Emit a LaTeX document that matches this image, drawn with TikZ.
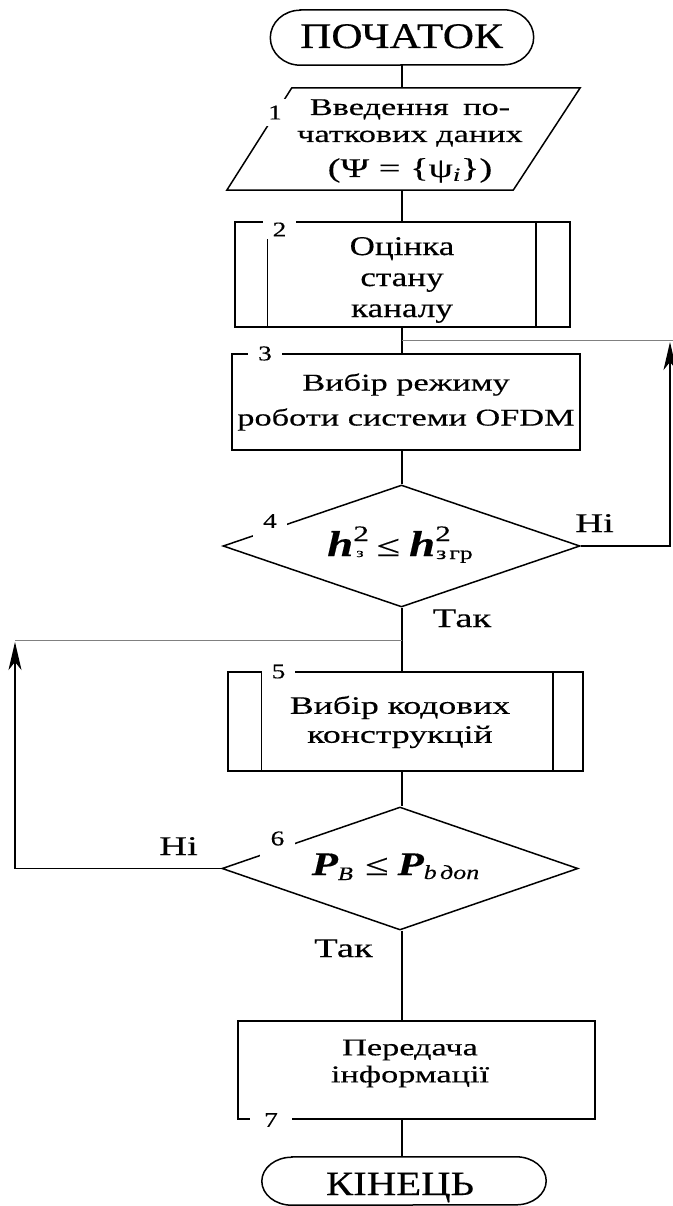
\documentclass[tikz,border=0pt]{standalone}
\usepackage{fontspec}
\setmainfont{Liberation Serif}
\newfontfamily\fw[FakeStretch=1.43,FakeBold=0.35]{Liberation Serif}
\newfontfamily\fv[FakeStretch=1.3,FakeBold=0.35]{Liberation Serif}
\newfontfamily\ft[FakeStretch=1.2,FakeBold=0.35]{Liberation Serif}
\usetikzlibrary{shapes.geometric,arrows.meta}
\newcommand\fsz[2]{\fontsize{#1}{#2}\selectfont}
\newcommand\hbi{{\fv\fsz{36}{36}\bfseries\itshape h}}
\newcommand\pbi{{\fv\fsz{33}{33}\bfseries\itshape P}}
\begin{document}
\begin{tikzpicture}[x=1pt,y=-1pt,
  ln/.style={line width=1.5pt},
  lite/.style={line width=0.8pt, draw=black!50},
  shp/.style={draw, line width=1.5pt, inner sep=0pt},
  num/.style={fill=white, inner xsep=10pt, inner ysep=3pt, font=\fv\fsz{21}{21}},
  lbl/.style={anchor=base, inner sep=0pt, font=\fw\fsz{27}{27}},
  txt/.style={align=center, inner sep=0pt},
  arr/.style={-{Stealth[length=28pt,width=13pt,inset=8pt]}}
]
\useasboundingbox (0,0) rectangle (672,1206);

% ---- start terminator
\node[inner sep=0pt, minimum width=263pt, minimum height=55pt] (t1) at (402,37.5) {};
\draw[ln] ([xshift=30pt]t1.north west) -- ([xshift=-30pt]t1.north east)
  arc[start angle=90,end angle=-90,x radius=30pt,y radius=27.5pt]
  -- ([xshift=30pt]t1.south west)
  arc[start angle=270,end angle=90,x radius=30pt,y radius=27.5pt] -- cycle;
\node[anchor=base, inner sep=0pt, font=\ft\fsz{36}{36}] (t1t) at (401.5,48) {ПОЧАТОК};

% ---- block 1 (input)
\node[inner sep=0pt, minimum width=353pt, minimum height=102pt] (b1) at (403.5,139) {};
\draw[ln] ([xshift=65pt]b1.north west) -- (b1.north east)
  -- ([xshift=-67pt]b1.south east) -- (b1.south west) -- cycle;
\node[txt, font=\fw\fsz{24}{27}] (b1t) at (410,141)
  {Введення\hspace{0.6em}по-\\чаткових даних\\[8pt]{\fsz{27}{27}(Ψ = \{ψ\textsubscript{\itshape i}\})}};

% ---- block 2
\node[rectangle, shp, minimum width=335pt, minimum height=105pt] (b2) at (402.5,274.5) {};
\draw[ln] ([xshift=33pt]b2.north west) -- ([xshift=33pt]b2.south west);
\draw[ln] ([xshift=-35pt]b2.north east) -- ([xshift=-35pt]b2.south east);
\node[txt, font=\fv\fsz{27}{31}] (b2t) at (402,280) {Оцінка\\стану\\каналу};

% ---- block 3
\node[rectangle, shp, minimum width=348pt, minimum height=96pt] (b3) at (406,402) {};
\node[txt, font=\fw\fsz{24}{35}] (b3t) at (406,402) {Вибір режиму\\роботи системи OFDM};

% ---- decision 4
\node[diamond, shp, minimum width=357pt, minimum height=122pt] (d4) at (401.5,546) {};
\node[anchor=base, inner sep=0pt] (d4t) at (400,556)
  {\hbi\rlap{\raisebox{15pt}{\fw\fsz{22}{22}2}}\hspace{3pt}\raisebox{-1pt}{\fw\fsz{13}{13}з}\hspace{13pt}{\fw\fsz{30}{30}≤}\hspace{9pt}\hbi\rlap{\raisebox{15pt}{\fw\fsz{22}{22}2}}\hspace{1pt}\raisebox{-3pt}{\fw\fsz{18}{18}з\,гр}};

% ---- block 5
\node[rectangle, shp, minimum width=355pt, minimum height=99pt] (b5) at (405.5,721.5) {};
\node[txt, font=\fw\fsz{25}{29}] (b5t) at (400,722) {Вибір кодових\\конструкцій};

% ---- decision 6
\node[diamond, shp, minimum width=356pt, minimum height=123pt] (d6) at (400,868.5) {};
\node[anchor=base, inner sep=0pt] (d6t) at (395.5,875)
  {\pbi\raisebox{-5pt}{\fv\fsz{19}{19}\itshape B}\hspace{12pt}{\fw\fsz{30}{30}≤}\hspace{9pt}\pbi\raisebox{-4pt}{\fv\fsz{20}{20}\itshape b\,доп}};

% ---- block 7
\node[rectangle, shp, minimum width=357pt, minimum height=98pt] (b7) at (416.5,1070) {};
\node[txt, font=\fw\fsz{24}{27}] (b7t) at (410,1063.5) {Передача\\інформації};

% ---- end terminator
\node[inner sep=0pt, minimum width=284pt, minimum height=48pt] (t2) at (404,1181) {};
\draw[ln] ([xshift=30pt]t2.north west) -- ([xshift=-30pt]t2.north east)
  arc[start angle=90,end angle=-90,x radius=30pt,y radius=24pt]
  -- ([xshift=30pt]t2.south west)
  arc[start angle=270,end angle=90,x radius=30pt,y radius=24pt] -- cycle;
\node[anchor=base, inner sep=0pt, font=\ft\fsz{34}{34}] (t2t) at (400,1195) {КІНЕЦЬ};

% ---- connectors
\draw[ln] (t1.south) -- (t1.south |- b1.north);
\draw[ln] (b1.south -| t1) -- (b2.north -| t1);
\draw[ln] (b2.south -| t1) -- (b3.north -| t1);
\draw[ln] (b3.south -| t1) -- (d4.north -| t1);
\draw[ln] (d4.south -| t1) -- (b5.north -| t1);
\draw[ln] (b5.south -| t1) -- (d6.north -| t1);
\draw[ln] (d6.south -| t1) -- (b7.north -| t1);
\draw[ln] (b7.south -| t1) -- (t2.north -| t1);

% ---- loops
\coordinate (jr) at (670,342);
\coordinate (m1) at (402,340);
\coordinate (m1e) at (673,340);
\draw[lite] (m1) -- (m1e);
\draw[ln,arr] (d4.east) -| (jr);

\coordinate (jl) at (15,642);
\coordinate (m2) at (402,640);
\coordinate (m2w) at (15,640);
\draw[lite] (m2) -- (m2w);
\draw[ln,arr] (d6.west) -| (jl);

% ---- numbers
\node[num, inner xsep=6pt, inner ysep=7pt] (n1) at (275,112.5) {1};
\node[num] (n2) at (279.5,229.5) {2};
\node[num] (n3) at (265,353.5) {3};
\node[num, inner ysep=10pt] (n4) at (270,521) {4};
\node[num] (n5) at (278.5,671.5) {5};
\draw[ln] ([xshift=34pt]b5.north west) -- ([xshift=34pt]b5.south west);
\draw[ln] ([xshift=-31pt]b5.north east) -- ([xshift=-31pt]b5.south east);
\node[num, inner xsep=11pt, inner ysep=11pt] (n6) at (277.5,838.5) {6};
\node[num, inner xsep=14pt] (n7) at (271,1120) {7};

% ---- branch labels
\node[lbl] (no1) at (594.5,532) {Ні};
\node[lbl] (yes1) at (462,627) {Так};
\node[lbl] (no2) at (178.5,855) {Ні};
\node[lbl] (yes2) at (343.5,957) {Так};
\end{tikzpicture}
\end{document}
